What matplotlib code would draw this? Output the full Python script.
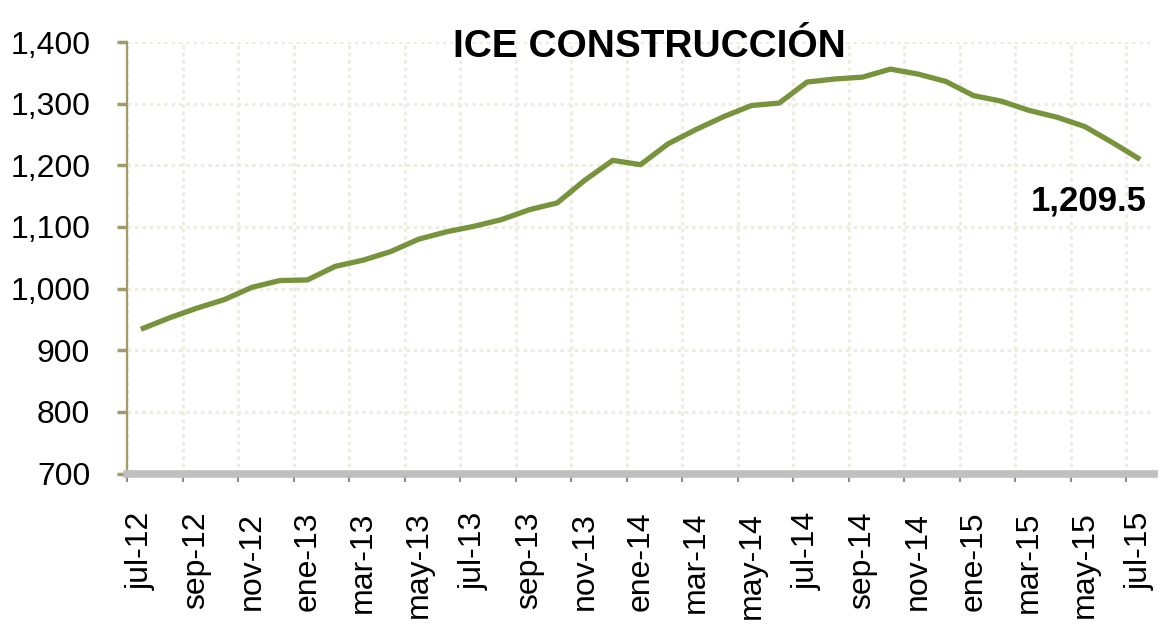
import matplotlib
matplotlib.use("Agg")
import matplotlib.pyplot as plt
from matplotlib import font_manager
from matplotlib.ticker import FixedLocator, FuncFormatter

# ---------------------------------------------------------------- data
months = ["jul-12", "ago-12", "sep-12", "oct-12", "nov-12", "dic-12",
          "ene-13", "feb-13", "mar-13", "abr-13", "may-13", "jun-13",
          "jul-13", "ago-13", "sep-13", "oct-13", "nov-13", "dic-13",
          "ene-14", "feb-14", "mar-14", "abr-14", "may-14", "jun-14",
          "jul-14", "ago-14", "sep-14", "oct-14", "nov-14", "dic-14",
          "ene-15", "feb-15", "mar-15", "abr-15", "may-15", "jun-15",
          "jul-15"]
ice = [934, 952, 968, 982, 1002, 1013, 1014, 1036, 1046, 1060, 1080, 1092,
       1101, 1112, 1128, 1139, 1176, 1208, 1201, 1235, 1258, 1279, 1297,
       1301, 1335, 1340, 1343, 1356, 1348, 1336, 1313, 1304, 1289, 1278,
       1263, 1237, 1209.5]
y_ticks = [700, 800, 900, 1000, 1100, 1200, 1300, 1400]
title = "ICE CONSTRUCCIÓN"

# ---------------------------------------------------------------- fonts
names = {f.name for f in font_manager.fontManager.ttflist}
if "Liberation Sans Narrow" in names:
    title_fam, title_size = "Liberation Sans Narrow", 34
else:
    title_fam, title_size = "Liberation Sans", 28
plt.rcParams["font.family"] = ["Liberation Sans", "DejaVu Sans"]

W, H = 1161, 625
fig = plt.figure(figsize=(W / 100, H / 100), dpi=100)
ax = fig.add_axes([127 / W, 1 - 473.5 / H, (1154 - 127) / W, (473.5 - 42) / H])

x = list(range(len(ice)))
ax.plot(x, ice, color="#77933C", lw=3.8, solid_joinstyle="round",
        solid_capstyle="butt", zorder=3)

ax.set_xlim(-0.5, len(ice) - 0.5)
ax.set_ylim(700, 1400)

# y axis
ax.yaxis.set_major_locator(FixedLocator(y_ticks))
ax.yaxis.set_major_formatter(FuncFormatter(lambda v, p: f"{v:,.0f}"))
ax.tick_params(axis="y", which="major", length=7.5, width=2.5,
               color="#A39B69", pad=19, labelsize=23, labelcolor="#000000")

# x axis: marks between every second category, labels on the categories
bounds = [i - 0.5 for i in range(0, len(ice), 2)]
ax.xaxis.set_major_locator(FixedLocator(bounds))
ax.xaxis.set_major_formatter(FuncFormatter(lambda v, p: ""))
ax.xaxis.set_minor_locator(FixedLocator(list(range(0, len(ice), 2))))
ax.xaxis.set_minor_formatter(FuncFormatter(lambda v, p: months[int(round(v))]))
ax.tick_params(axis="x", which="major", length=6, width=1.5,
               color="#8C8C8C")
ax.tick_params(axis="x", which="minor", length=0, pad=27.5, labelsize=23,
               labelcolor="#000000", labelrotation=90)
for lab in ax.get_xticklabels(minor=True):
    lab.set_verticalalignment("top")

ax.grid(True, which="major", axis="both", color="#EFECE2", lw=2.2,
        linestyle=(0, (1.2, 1.2)), zorder=0)

for sp in ("top", "right"):
    ax.spines[sp].set_visible(False)
ax.spines["left"].set_color("#A39B69")
ax.spines["left"].set_linewidth(1.6)
ax.spines["bottom"].set_color("#BFBFBF")
ax.spines["bottom"].set_linewidth(5.5)
ax.spines["bottom"].set_zorder(4)

fig.text(649 / W, 1 - 57 / H, title, ha="center", va="baseline",
         fontsize=title_size, fontweight="bold", family=title_fam,
         color="#000000", zorder=5)

ax.annotate(f"{ice[-1]:,.1f}", (x[-1], ice[-1]), xytext=(7, -51),
            textcoords="offset pixels", ha="right", va="baseline",
            fontsize=25, fontweight="bold", color="#000000")

fig.savefig("out.png", dpi=100)
